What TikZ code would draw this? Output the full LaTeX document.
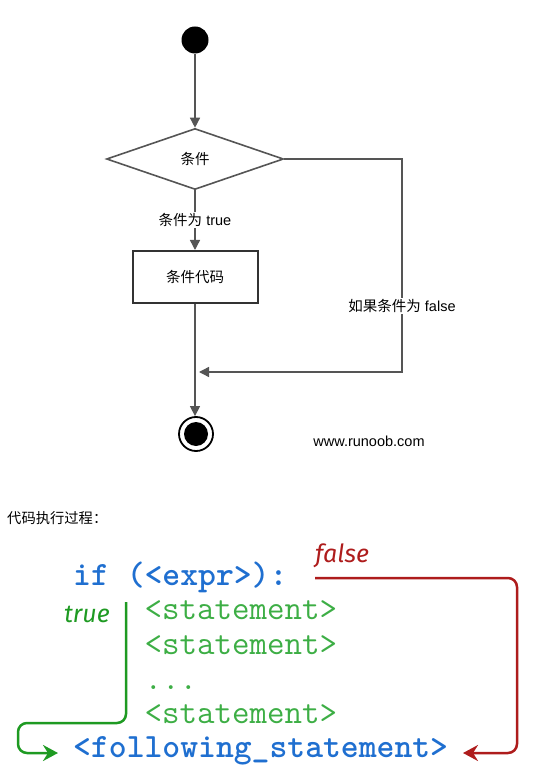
\documentclass[tikz,border=0pt]{standalone}
\usepackage{fontspec}
\usepackage{xcolor}
\usepackage{tikz}
\usetikzlibrary{arrows.meta,shapes.geometric,positioning}
\setmainfont{Liberation Sans}
\newfontfamily\cjk{Noto Sans CJK SC}
\newfontfamily\branchfont{Fira Sans}
\newcommand{\flowfont}{\fontsize{14.5}{17}\selectfont}
\newcommand{\codefont}{\ttfamily\fontsize{34}{38}\selectfont}
\newcommand{\branchlabel}{\branchfont\itshape\fontsize{25}{30}\selectfont}
\definecolor{flowgray}{HTML}{555555}
\definecolor{codeblue}{HTML}{1F6FD0}
\definecolor{codegreen}{HTML}{3DAE45}
\definecolor{truegreen}{HTML}{1E9A22}
\definecolor{falsered}{HTML}{AE1C1C}

\begin{document}
\begin{tikzpicture}[
    x=1pt, y=-1pt,
    flowline/.style={draw=flowgray, line width=1.4pt},
    flowarrow/.style={flowline, -{Triangle[length=10pt,width=10pt]}},
    startstate/.style={circle, fill=black, minimum size=27pt, inner sep=0},
    endstate/.style={circle, draw=black, line width=1.8pt, minimum size=34pt, inner sep=0,
        path picture={\fill[black] (path picture bounding box.center) circle (12pt);}},
    decision/.style={diamond, draw=flowgray, line width=1.6pt, minimum width=177pt,
        minimum height=61pt, inner sep=0, font=\flowfont},
    process/.style={rectangle, draw=black!80, line width=2pt, minimum width=125pt,
        minimum height=52pt, font=\flowfont},
    flowlabel/.style={fill=white, inner sep=1.5pt, font=\flowfont},
    codeline/.style={anchor=base west, inner sep=0, font=\codefont},
    branch/.style={line width=2.5pt, rounded corners=9pt,
        -{Stealth[length=15pt,width=16pt,inset=5pt]}}]
    \useasboundingbox (0,0) rectangle (545,775);
    \node[startstate] (start) at (195,40) {};
    \node[decision] (cond) at (195,159) {\cjk 条件};
    \node[process] (body) at (195,277) {\cjk 条件代码};
    \node[endstate] (stop) at (196,434) {};
    \node[font=\flowfont] (site) at (369,441) {www.runoob.com};
    \coordinate (corner) at (402,372);
    \coordinate (join) at (body.south |- corner);
    \draw[flowarrow] (start) -- (cond);
    \draw[flowarrow] (cond) -- node[flowlabel] {{\cjk 条件为} true} (body);
    \draw[flowarrow] (body) -- (body.south |- stop.north);
    \draw[flowarrow] (cond.east) -| node[flowlabel, pos=0.845] {{\cjk 如果条件为} false} (corner)
        -- ([xshift=4pt]join);

    \node[anchor=base west, inner sep=0, font=\fontsize{14.3}{17}\selectfont] (heading) at (7,523)
        {\cjk 代码执行过程：};
    \node[codeline, text=codeblue, font=\codefont\bfseries] (ifline) at (73,585) {if (<expr>):};
    \node[codeline, text=codegreen] (stmta) at (144.4,619.5) {<statement>};
    \node[codeline, text=codegreen] (stmtb) at (144.4,654) {<statement>};
    \node[codeline, text=codegreen] (dots) at (144.4,689) {...};
    \node[codeline, text=codegreen] (stmtc) at (144.4,723) {<statement>};
    \node[codeline, text=codeblue, font=\codefont\bfseries] (follow) at (73,757.5)
        {<following\_statement>};
    \node[anchor=base east, inner sep=0, text=truegreen, font=\branchlabel] (truelabel) at (110,622) {true};
    \node[anchor=base west, inner sep=0, text=falsered, font=\branchlabel] (falselabel) at (315,562) {false};
    \coordinate (truetop) at (126,602);
    \coordinate (truebend) at (18,723);
    \coordinate (truetip) at (58,753);
    \coordinate (falsestart) at (315,578);
    \coordinate (falsebend) at (517,753);
    \coordinate (falsetip) at (463,753);
    \draw[branch, truegreen] (truetop) |- (truebend) |- (truetip);
    \draw[branch, falsered] (falsestart) -| (falsebend) -- (falsetip);
\end{tikzpicture}
\end{document}
